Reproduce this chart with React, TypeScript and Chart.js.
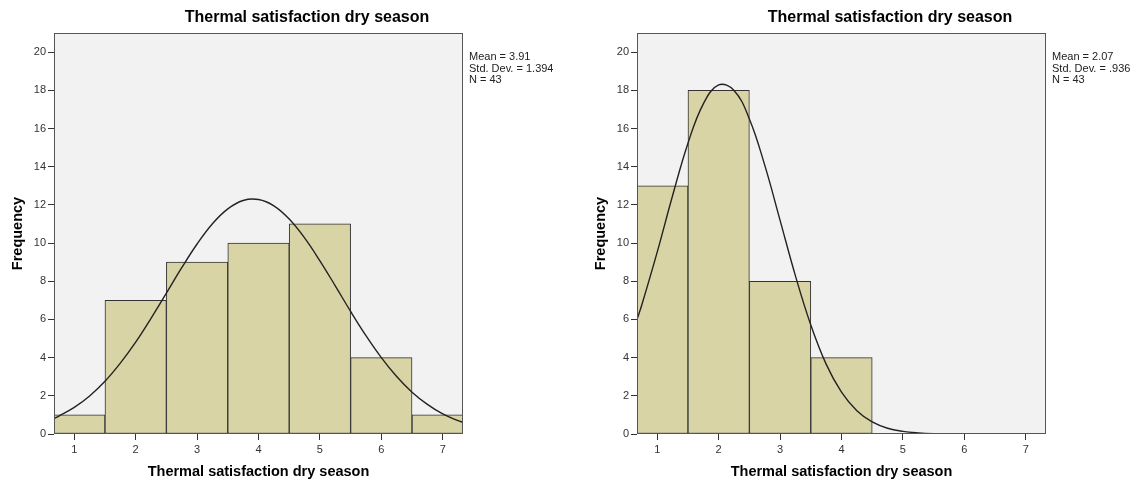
import React, { useEffect, useRef } from 'react';
import { Chart, registerables } from 'chart.js';

Chart.register(...registerables);

// ---- data ----
const binCenters = [1, 2, 3, 4, 5, 6, 7];
const leftCounts = [1, 7, 9, 10, 11, 4, 1];
const rightCounts = [13, 18, 8, 4, 0, 0, 0];
const xTickValues = [1, 2, 3, 4, 5, 6, 7];
const yTickValues = [0, 2, 4, 6, 8, 10, 12, 14, 16, 18, 20];
const curveX = [0.67, 0.75, 1, 1.25, 1.5, 1.75, 2, 2.25, 2.5, 2.75, 3, 3.25, 3.5, 3.75, 4, 4.25, 4.5, 4.75, 5, 5.25, 5.5, 5.75, 6, 6.25, 6.5, 6.75, 7, 7.25, 7.33];
const leftCurveY = [0.82, 0.94, 1.39, 1.99, 2.76, 3.71, 4.81, 6.06, 7.38, 8.71, 9.95, 11.01, 11.79, 12.23, 12.28, 11.95, 11.26, 10.27, 9.07, 7.76, 6.42, 5.15, 4.0, 3.01, 2.19, 1.55, 1.05, 0.7, 0.61];
const rightCurveY = [5.99, 6.78, 9.54, 12.49, 15.23, 17.29, 18.28, 17.99, 16.5, 14.08, 11.19, 8.28, 5.71, 3.66, 2.19, 1.22, 0.63, 0.3, 0.14, 0.06, 0.02, 0.01, 0.003, 0.001, 0, 0, 0, 0, 0];
const chartTitle = 'Thermal satisfaction dry season';
const xTitle = 'Thermal satisfaction dry season';
const yTitle = 'Frequency';
const leftStats = ['Mean = 3.91', 'Std. Dev. = 1.394', 'N = 43'];
const rightStats = ['Mean = 2.07', 'Std. Dev. = .936', 'N = 43'];

const FONT = '"Liberation Sans", Arial, Helvetica, sans-serif';

type PanelCfg = {
  counts: number[];
  curve: number[];
  stats: string[];
  yAxisW: number;
  rightPad: number;
  titleX: number;
  freqX: number;
};

function makePlugin(cfg: PanelCfg) {
  return {
    id: 'panelDecor',
    beforeDraw(chart: any) {
      const { ctx, chartArea: a } = chart;
      ctx.save();
      ctx.fillStyle = '#f2f2f2';
      ctx.fillRect(a.left, a.top, a.right - a.left, a.bottom - a.top);
      ctx.restore();
    },
    afterDatasetsDraw(chart: any) {
      const { ctx, chartArea: a } = chart;
      ctx.save();
      ctx.strokeStyle = '#555555';
      ctx.lineWidth = 1;
      const l = Math.round(a.left) + 0.5;
      const t = Math.round(a.top) + 0.5;
      const r = Math.round(a.right) - 0.5;
      const b = Math.round(a.bottom) - 0.5;
      ctx.strokeRect(l, t, r - l, b - t);
      ctx.restore();
    },
    afterDraw(chart: any) {
      const { ctx, chartArea: a } = chart;
      ctx.save();
      ctx.fillStyle = '#000000';
      ctx.textBaseline = 'middle';
      ctx.textAlign = 'center';
      ctx.font = `bold 16px ${FONT}`;
      ctx.fillText(chartTitle, cfg.titleX, 18);
      ctx.font = `bold 14.5px ${FONT}`;
      ctx.fillText(xTitle, (a.left + a.right) / 2, 472);
      ctx.save();
      ctx.translate(cfg.freqX, (a.top + a.bottom) / 2);
      ctx.rotate(-Math.PI / 2);
      ctx.fillText(yTitle, 0, 0);
      ctx.restore();
      ctx.textAlign = 'left';
      ctx.font = `11px ${FONT}`;
      ctx.fillStyle = '#222222';
      cfg.stats.forEach((s, i) => {
        ctx.fillText(s, a.right + 6, 57 + i * 11.5);
      });
      ctx.restore();
    },
  };
}

function Panel({ cfg }: { cfg: PanelCfg }) {
  const ref = useRef<HTMLCanvasElement>(null);
  useEffect(() => {
    if (!ref.current) return;
    const chart = new Chart(ref.current, {
      type: 'bar',
      data: {
        datasets: [
          {
            type: 'line',
            data: curveX.map((x, i) => ({ x, y: cfg.curve[i] })),
            borderColor: '#222222',
            borderWidth: 1.4,
            pointRadius: 0,
            tension: 0.4,
            fill: false,
            clip: 0,
            order: 0,
          } as any,
          {
            type: 'bar',
            data: binCenters.map((x, i) => ({ x, y: cfg.counts[i] })),
            backgroundColor: '#d9d4a6',
            borderColor: '#333333',
            borderWidth: (c: any) => (c.raw && c.raw.y > 0 ? 1 : 0),
            borderSkipped: false,
            barPercentage: 1,
            categoryPercentage: 1,
            clip: 0,
            order: 1,
          } as any,
        ],
      },
      options: {
        responsive: false,
        animation: false,
        events: [],
        layout: { padding: { top: 33, right: cfg.rightPad, left: 0, bottom: 0 } },
        plugins: { legend: { display: false }, tooltip: { enabled: false }, title: { display: false } },
        scales: {
          x: {
            type: 'linear',
            min: 0.67,
            max: 7.33,
            offset: false,
            afterBuildTicks: (s: any) => {
              s.ticks = xTickValues.map((v) => ({ value: v }));
            },
            afterFit: (s: any) => {
              s.height = 48;
            },
            grid: { offset: false, drawOnChartArea: false, drawTicks: true, tickLength: 6, tickColor: '#333333', color: '#333333' },
            border: { display: false },
            ticks: { font: { family: FONT, size: 11 }, color: '#333333', padding: 3, maxRotation: 0 },
          },
          y: {
            type: 'linear',
            min: 0,
            max: 21,
            afterBuildTicks: (s: any) => {
              s.ticks = yTickValues.map((v) => ({ value: v }));
            },
            afterFit: (s: any) => {
              s.width = cfg.yAxisW;
            },
            grid: { drawOnChartArea: false, drawTicks: true, tickLength: 6, tickColor: '#333333', color: '#333333' },
            border: { display: false },
            ticks: { font: { family: FONT, size: 11 }, color: '#333333', padding: 2 },
          },
        },
      },
      plugins: [makePlugin(cfg)],
    } as any);
    return () => chart.destroy();
  }, []);
  return <canvas ref={ref} width={567} height={482} style={{ display: 'block', width: 567, height: 482 }} />;
}

const leftCfg: PanelCfg = {
  counts: leftCounts,
  curve: leftCurveY,
  stats: leftStats,
  yAxisW: 54,
  rightPad: 104,
  titleX: 307,
  freqX: 18,
};

const rightCfg: PanelCfg = {
  counts: rightCounts,
  curve: rightCurveY,
  stats: rightStats,
  yAxisW: 70,
  rightPad: 88,
  titleX: 323,
  freqX: 34,
};

export default function App() {
  return (
    <div style={{ position: 'absolute', left: 0, top: 0, width: 1134, height: 482, background: '#ffffff', display: 'flex' }}>
      <Panel cfg={leftCfg} />
      <Panel cfg={rightCfg} />
    </div>
  );
}
